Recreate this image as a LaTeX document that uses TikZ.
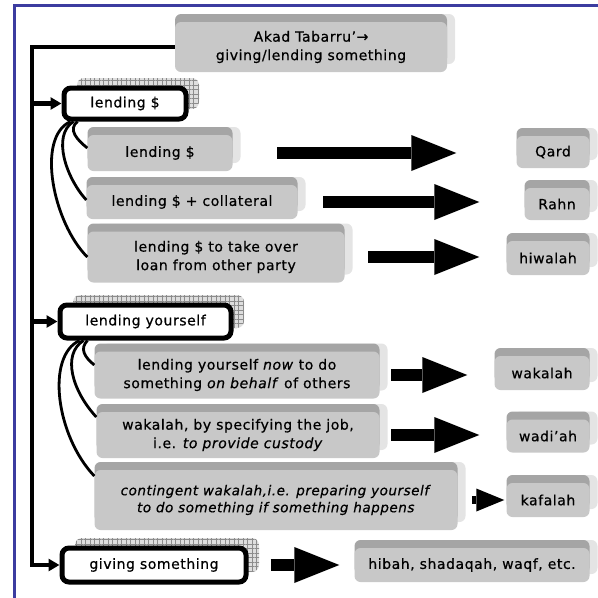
\documentclass[tikz,border=0pt]{standalone}
\usepackage{fontspec}
\setmainfont{DejaVu Sans}[LetterSpace=4, FakeBold=0.6]
\usetikzlibrary{arrows.meta,shadows,patterns.meta}

\definecolor{slabface}{RGB}{200,200,200}
\definecolor{slabtop}{RGB}{165,165,165}
\definecolor{slabside}{RGB}{228,228,228}
\definecolor{gridbg}{RGB}{222,222,222}
\definecolor{gridline}{RGB}{140,140,140}
\definecolor{frameblue}{RGB}{60,60,160}

\tikzset{
  slab/.style={fill=slabface, rounded corners=6pt, inner sep=0pt, align=center,
    general shadow={shadow xshift=8pt, shadow yshift=8pt, fill=slabside},
    general shadow={shadow xshift=0pt, shadow yshift=8pt, fill=slabtop}},
  boldbox/.style={draw, line width=5pt, fill=white, rounded corners=7pt, inner sep=0pt,
    general shadow={shadow xshift=13pt, shadow yshift=10pt, fill=gridbg},
    general shadow={shadow xshift=13pt, shadow yshift=10pt,
      pattern={Hatch[angle=0,distance=4.5pt,line width=0.5pt]}, pattern color=gridline}},
  feed/.style={line width=4.5pt, -{Triangle[length=11pt,width=12pt]}},
  curl/.style={line width=2.8pt},
  fatarrow/.style={line width=12pt, -{Triangle[length=45pt,width=36pt,line width=0pt]}},
  smallfat/.style={line width=8pt, -{Triangle[length=28pt,width=23pt,line width=0pt]}},
}

\begin{document}
\begin{tikzpicture}[x=1pt, y=-1pt, font=\fontsize{14}{18.5}\selectfont]
    \useasboundingbox (0,0) rectangle (598,598);

    % Frame
    \draw[frameblue, line width=3pt] (14.5,598) -- (14.5,5.5) -- (598,5.5);

    % Title
    \node[slab, minimum width=272pt, minimum height=50pt] (akad) at (311,47)
        {Akad Tabarru'→\\giving/lending something};

    % Lending money
    \node[boldbox, minimum width=122pt, minimum height=31pt] (lendd) at (125,103.5) {lending \$};
    \node[slab, minimum width=145pt, minimum height=36pt] (lend1) at (160,153) {lending \$};
    \node[slab, minimum width=211pt, minimum height=34pt] (lend2) at (192,202) {lending \$ + collateral};
    \node[slab, minimum width=257pt, minimum height=51pt] (lend3) at (216,257)
        {lending \$ to take over\\loan from other party};
    \node[slab, minimum width=73pt, minimum height=32pt] (qard) at (553,152) {Qard};
    \node[slab, minimum width=65pt, minimum height=32pt] (rahn) at (557,204) {Rahn};
    \node[slab, minimum width=83pt, minimum height=34pt] (hiwalah) at (548,258) {hiwalah};

    % Lending yourself
    \node[boldbox, minimum width=171pt, minimum height=33pt] (lendy) at (145.5,321.5) {lending yourself};
    \node[slab, minimum width=285pt, minimum height=47pt] (ly1) at (237,375)
        {lending yourself \textit{now} to do\\something \textit{on behalf} of others};
    \node[slab, minimum width=283pt, minimum height=46pt] (ly2) at (238,435)
        {wakalah, by specifying the job,\\i.e. \textit{to provide custody}};
    \node[slab, minimum width=363pt, minimum height=60pt, font=\fontsize{13.5}{17}\selectfont] (ly3) at (276,500)
        {\textit{contingent wakalah,i.e. preparing yourself}\\\textit{to do something if something happens}};
    \node[slab, minimum width=95pt, minimum height=34pt] (wakalah) at (542,373) {wakalah};
    \node[slab, minimum width=83pt, minimum height=33pt] (wadiah) at (548,436) {wadi'ah};
    \node[slab, minimum width=83pt, minimum height=34pt] (kafalah) at (548,500) {kafalah};

    % Giving
    \node[boldbox, minimum width=184pt, minimum height=34pt] (giving) at (154,565) {giving something};
    \node[slab, minimum width=235pt, minimum height=34pt] (hibah) at (472,565) {hibah, shadaqah, waqf, etc.};

    % Spine
    \coordinate (corner) at (32,47);
    \draw[feed] (akad.west) -- (corner) |- (giving.west);
    \draw[feed] (corner |- lendd.west) -- (lendd.west);
    \draw[feed] (corner |- lendy.west) -- (lendy.west);

    % Curls
    \draw[curl] ([xshift=16pt]lendd.south west) .. controls +(-10,8) and +(-10,-8) .. ([yshift=5pt]lend1.west);
    \draw[curl] ([xshift=12pt]lendd.south west) .. controls +(-22,14) and +(-20,-22) .. ([yshift=2pt]lend2.west);
    \draw[curl] ([xshift=9pt]lendd.south west) .. controls +(-35,16) and +(-34,-34) .. (lend3.west);
    \draw[curl] ([xshift=30pt]lendy.south west) .. controls +(-8,8) and +(-10,-8) .. ([yshift=10pt]ly1.west);
    \draw[curl] ([xshift=26pt]lendy.south west) .. controls +(-22,14) and +(-24,-26) .. ([yshift=18pt]ly2.west);
    \draw[curl] ([xshift=22pt]lendy.south west) .. controls +(-34,16) and +(-38,-40) .. ([yshift=24pt]ly3.west);

    % Fat arrows
    \draw[fatarrow, shorten <=44.5pt, shorten >=60pt] (lend1.east) -- (lend1.east -| qard.west);
    \draw[fatarrow, shorten <=25.5pt, shorten >=45pt] (lend2.east) -- (lend2.east -| rahn.west);
    \draw[fatarrow, shorten <=23.5pt, shorten >=27pt] (lend3.east) -- (lend3.east -| hiwalah.west);
    \draw[fatarrow, shorten <=11.5pt, shorten >=27pt] (ly1.east) -- (ly1.east -| wakalah.west);
    \draw[fatarrow, shorten <=11.5pt, shorten >=27pt] (ly2.east) -- (ly2.east -| wadiah.west);
    \draw[smallfat, shorten <=14.5pt, shorten >=2pt] (ly3.east) -- (ly3.east -| kafalah.west);
    \draw[fatarrow, shorten <=22pt, shorten >=15pt] (giving.east) -- (giving.east -| hibah.west);
\end{tikzpicture}
\end{document}
